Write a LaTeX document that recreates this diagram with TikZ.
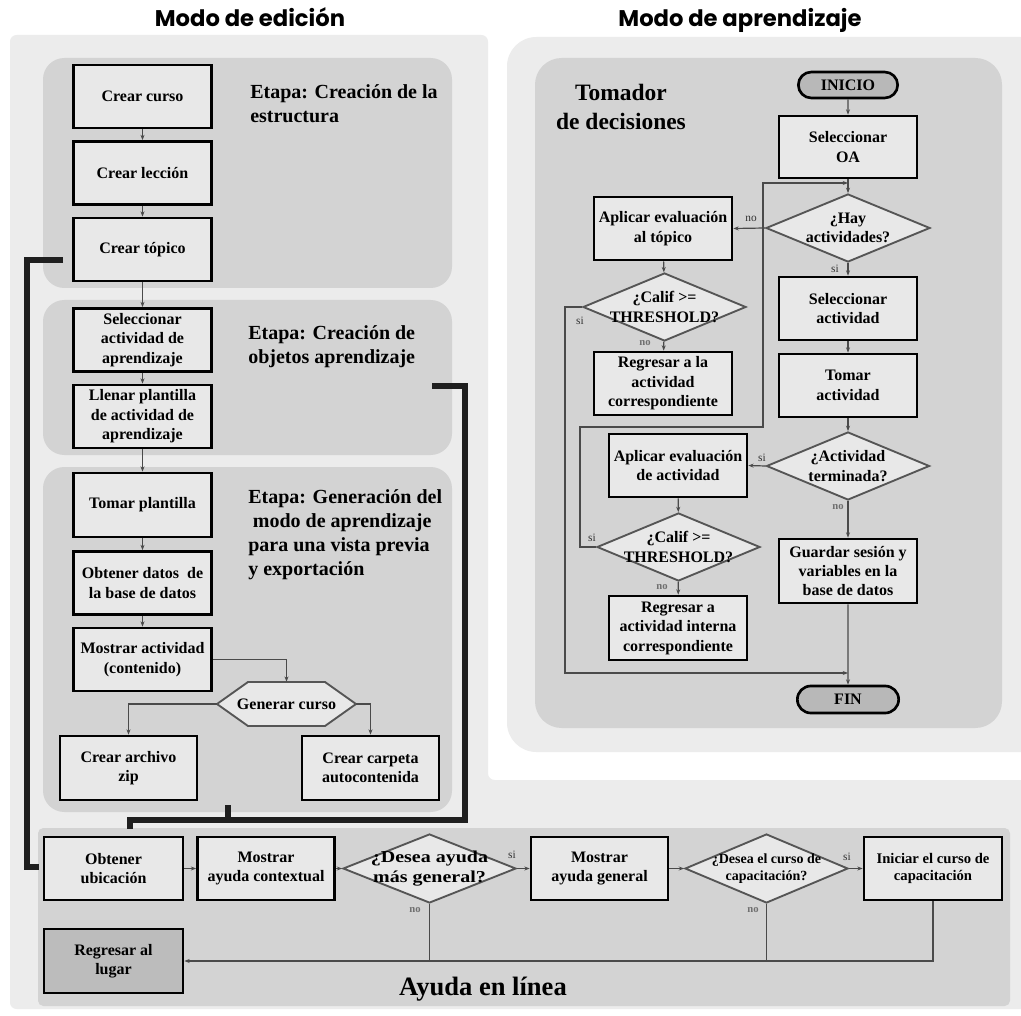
\documentclass[tikz,border=0pt]{standalone}
\usepackage{fontspec}
\setmainfont{Liberation Serif}
\newfontfamily\titlefont{Poppins}
\newfontfamily\widefont{Liberation Serif}[FakeStretch=1.2]
\usetikzlibrary{arrows.meta,shapes.geometric,shapes.misc,calc}

\definecolor{outerbg}{HTML}{ECECEC}
\definecolor{panelbg}{HTML}{D3D3D3}
\definecolor{boxfill}{HTML}{E8E8E8}
\definecolor{termfill}{HTML}{B8B8B8}
\definecolor{darkfill}{HTML}{BCBCBC}
\definecolor{linegray}{HTML}{4A4A4A}
\definecolor{diagray}{HTML}{555555}
\definecolor{notegray}{HTML}{707070}

\newcommand\pxu{0.75pt}
\newcommand\boxfont{\bfseries\fontsize{12}{14.6}\selectfont}

\tikzset{
  box/.style={draw=black, line width=2pt, fill=boxfill, align=center, font=\boxfont,
    inner sep=1pt, minimum width=138*\pxu, minimum height=63*\pxu},
  darkbox/.style={box, fill=darkfill},
  term/.style={rounded rectangle, draw=black, line width=2pt, fill=termfill, font=\boxfont,
    inner sep=1pt, minimum width=102*\pxu, minimum height=26*\pxu},
  dia/.style={diamond, draw=diagray, line width=1.4pt, fill=boxfill, inner sep=0pt,
    minimum width=163*\pxu, minimum height=68*\pxu},
  diatext/.style={align=center, font=\boxfont, inner sep=0pt},
  conn/.style={draw=linegray, line width=0.9pt, -{Stealth[length=4pt,width=3pt]}},
  plain/.style={draw=linegray, line width=0.9pt},
  heavy/.style={draw=black!88, line width=5pt},
  stagetxt/.style={align=left, inner sep=0pt, font=\bfseries\fontsize{15}{18}\selectfont},
  lbl/.style={inner sep=0pt, text=black!80, font=\fontsize{8.5}{10}\selectfont},
  nolbl/.style={inner sep=0pt, text=notegray, font=\bfseries\fontsize{8}{10}\selectfont},
  title/.style={inner sep=0pt, font=\titlefont\bfseries\fontsize{17}{20}\selectfont}
}

\begin{document}
\begin{tikzpicture}[x=0.75pt,y=-0.75pt]
\useasboundingbox (0,0) rectangle (1021,1016);
\clip (0,0) rectangle (1021,1016);
\fill[white] (0,0) rectangle (1021,1016);

% background areas
\fill[outerbg, rounded corners=5pt] (10,35) -- (488,35) -- (488,780) -- (1040,780) -- (1040,1009) -- (10,1009) -- cycle;
\fill[outerbg, rounded corners=22pt] (507,37) rectangle (1050,752);
\fill[panelbg, rounded corners=16pt] (43,58) rectangle (452,288);
\fill[panelbg, rounded corners=16pt] (43,300) rectangle (452,455);
\fill[panelbg, rounded corners=16pt] (43,467) rectangle (452,812);
\fill[panelbg, rounded corners=20pt] (535,58) rectangle (1002,728);
\fill[panelbg, rounded corners=4pt] (38,828) rectangle (1010,1006);

% titles
\node[title, anchor=base] (tedit) at (250,27) {Modo de edición};
\node[title, anchor=base] (tlearn) at (740,27) {Modo de aprendizaje};

% stage captions
\node[stagetxt, anchor=north west] (st1) at (250,84) {Etapa: Creación de la\\estructura};
\node[stagetxt, anchor=north west] (st2) at (248,325) {Etapa: Creación de\\objetos aprendizaje};
\node[stagetxt, anchor=north west] (st3) at (248,489) {Etapa: Generación del\\\hspace{3.5pt}modo de aprendizaje\\para una vista previa\\y exportación};

% edition column
\node[box] (cc) at (142.5,96.5) {Crear curso};
\node[box] (cl) at (142.5,173) {Crear lección};
\node[box] (ct) at (142.5,249.5) {Crear tópico};
\node[box] (sa) at (142.5,340) {Seleccionar\\actividad de\\aprendizaje};
\node[box] (lp) at (142.5,416.5) {Llenar plantilla\\de actividad de\\aprendizaje};
\node[box, minimum height=64*\pxu] (tp) at (142.5,505) {Tomar plantilla};
\node[box] (od) at (142.5,583) {Obtener datos~ de\\la base de datos};
\node[box] (ma) at (142.5,659.5) {Mostrar actividad\\(contenido)};

% hexagon
\filldraw[fill=boxfill, draw=diagray, line width=1.4pt]
  (217,704) -- (248,682) -- (325,682) -- (356,704) -- (325,726) -- (248,726) -- cycle;
\node[inner sep=0pt, font=\boxfont, minimum width=139*\pxu, minimum height=44*\pxu] (gc) at (286.5,704) {Generar curso};

\node[box, minimum width=137*\pxu, minimum height=64*\pxu] (zip) at (128.5,768) {Crear archivo\\zip};
\node[box, minimum width=137*\pxu, minimum height=64*\pxu] (carp) at (370.5,768) {Crear carpeta\\autocontenida};

\draw[conn] (cc) -- (cl);
\draw[conn] (cl) -- (ct);
\draw[conn] (ct) -- (sa);
\draw[conn] (sa) -- (lp);
\draw[conn] (lp) -- (tp);
\draw[conn] (tp) -- (od);
\draw[conn] (od) -- (ma);
\draw[conn] (ma.east) -| (gc.north);
\draw[conn] (gc.west) -| (zip.north);
\draw[conn] (gc.east) -| (carp.north);

% learning mode
\node[anchor=north, align=center, inner sep=0pt, font=\bfseries\fontsize{17.6}{21.8}\selectfont] (td) at (621,84) {Tomador\\de decisiones};

\node[term] (ini) at (848,85) {INICIO};
\node[box, minimum height=62*\pxu] (soa) at (848,147) {Seleccionar\\OA};
\node[dia, minimum width=164*\pxu] (hay) at (848,228) {};
\node[diatext] at (hay) {¿Hay\\actividades?};
\node[box] (aet) at (663,228.5) {Aplicar evaluación\\al tópico};
\node[dia] (cal1) at (664.5,307) {};
\node[diatext] at (cal1) {¿Calif >=\\THRESHOLD?};
\node[box] (rac) at (663,383.5) {Regresar a la\\actividad\\correspondiente};
\node[box] (sac) at (848,308.5) {Seleccionar\\actividad};
\node[box] (tac) at (848,385.5) {Tomar\\actividad};
\node[dia] (ter) at (848,466) {};
\node[diatext] at (ter) {¿Actividad\\terminada?};
\node[box] (aea) at (678,465.5) {Aplicar evaluación\\de actividad};
\node[dia] (cal2) at (678.5,547) {};
\node[diatext] at (cal2) {¿Calif >=\\THRESHOLD?};
\node[box, minimum height=64*\pxu] (rai) at (678,628) {Regresar a\\actividad interna\\correspondiente};
\node[box, minimum height=64*\pxu] (gs) at (848,571) {Guardar sesión y\\variables en la\\base de datos};
\node[term, minimum width=104*\pxu, minimum height=27*\pxu] (fin) at (848,699.5) {FIN};

\coordinate (jtop) at (848,183);
\coordinate (jbot) at (848,673);

\draw[conn] (ini) -- (soa);
\draw[conn] (soa) -- (hay);
\draw[conn] (hay.west) -- (aet.east);
\node[lbl] at (751,219) {no};
\draw[conn] (hay) -- (sac);
\node[lbl] at (835,269) {si};
\draw[conn] (aet) -- (cal1);
\draw[conn] (cal1) -- (rac);
\node[nolbl] at (645,343) {no};
\draw[conn] (cal1.west) -| (565,673) -- (jbot);
\node[lbl] at (580,321) {si};
\draw[conn] (sac) -- (tac);
\draw[conn] (tac) -- (ter);
\draw[conn] (ter.west) -- (aea.east);
\node[lbl] at (762,458) {si};
\draw[conn] (ter) -- (gs);
\node[nolbl] at (838,507) {no};
\draw[conn] (aea) -- (cal2);
\draw[conn] (cal2) -- (rai);
\node[nolbl] at (662,587) {no};
\draw[conn] (cal2.west) -| (580,427) -| (763,183) -- (jtop);
\node[lbl] at (592,538) {si};
\draw[conn] (gs) -- (fin);

% online help
\node[box, minimum width=139*\pxu] (ou) at (113.5,868.5) {Obtener\\ubicación};
\node[box, minimum width=137*\pxu] (mac) at (266,868.5) {Mostrar\\ayuda contextual};
\node[dia, minimum width=173*\pxu, minimum height=69*\pxu] (d1) at (429.5,868.5) {};
\node[diatext, font=\widefont\bfseries\fontsize{12.5}{14.6}\selectfont] at (d1) {¿Desea ayuda\\más general?};
\node[box, minimum width=137*\pxu] (mag) at (599.5,868.5) {Mostrar\\ayuda general};
\node[dia, minimum height=69*\pxu] (d2) at (766.5,868.5) {};
\node[diatext, font=\bfseries\fontsize{10.5}{13}\selectfont] at (d2) {¿Desea el curso de\\capacitación?};
\node[box, font=\bfseries\fontsize{11}{13}\selectfont] (icc) at (933,868.5) {Iniciar el curso de\\capacitación};
\node[darkbox, minimum width=139*\pxu, minimum height=64*\pxu] (rl) at (113.5,961) {Regresar al\\lugar};

\draw[conn] (ou) -- (mac);
\draw[conn] (mac) -- (d1);
\draw[conn] (d1) -- (mag);
\node[lbl] at (512,855) {si};
\draw[conn] (mag) -- (d2);
\draw[conn] (d2) -- (icc);
\node[lbl] at (847,857) {si};
\draw[conn] (icc.south) |- (rl.east);
\draw[plain] (d1.south) -- (d1.south |- rl.east);
\draw[plain] (d2.south) -- (d2.south |- rl.east);
\node[nolbl] at (415,910) {no};
\node[nolbl] at (753,910) {no};

\node[anchor=base, inner sep=0pt, font=\bfseries\fontsize{19.9}{24}\selectfont] (ayuda) at (483,995) {Ayuda en línea};

% heavy links between the editing stages and the help block
\coordinate (hvA) at (63,260);
\coordinate (hvB) at (27,867);
\draw[heavy] (hvA) -| (hvB) -- ([xshift=-3pt]ou.west |- hvB);
\coordinate (hvC) at (432,386);
\coordinate (hvD) at (465,820);
\coordinate (hvE) at (130,820);
\coordinate (hvF) at (228,805);
\draw[heavy] (hvC) -| (hvD) -- (hvE) -- (130,829);
\draw[heavy] (hvF) -- (hvF |- hvD);
\end{tikzpicture}
\end{document}
